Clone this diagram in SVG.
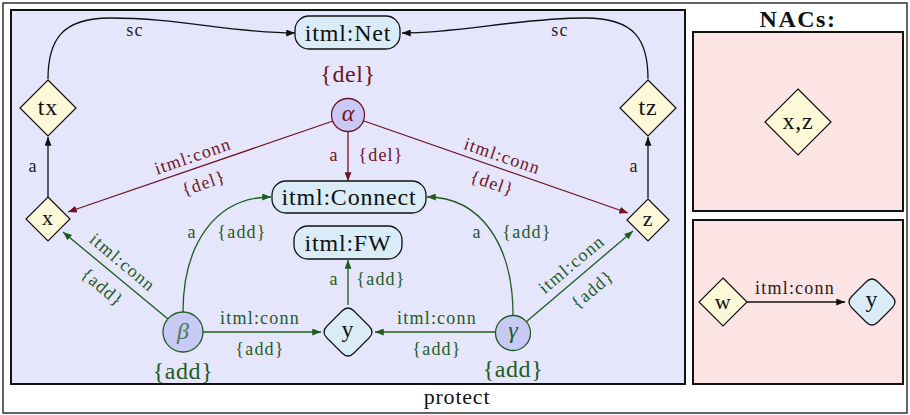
<svg xmlns="http://www.w3.org/2000/svg" width="910" height="415" viewBox="0 0 910 415">
<style>
text{font-family:"Liberation Serif","Times New Roman",serif;}
.node{font-size:24px;letter-spacing:0.8px;fill:#111;text-anchor:middle;}
.big{font-size:24px;letter-spacing:0.6px;text-anchor:middle;}
.lbl{font-size:18px;letter-spacing:1.2px;text-anchor:middle;}
.greek{font-size:24px;font-style:italic;text-anchor:middle;}
.k{fill:#222;}
.del{fill:#6e1423;}
.add{fill:#1e5c1e;}
.ek{stroke:#111;stroke-width:1.3;fill:none;}
.edel{stroke:#6e1423;stroke-width:1.3;fill:none;}
.eadd{stroke:#1e5c1e;stroke-width:1.3;fill:none;}
.rect{fill:#d9ecf8;stroke:#111;stroke-width:1.3;}
.dia{fill:#fdf8d8;stroke:#111;stroke-width:1.2;}
.ydia{fill:#d9ecf8;stroke:#111;stroke-width:1.2;}
.cir{fill:#c9c9f5;stroke-width:1.3;}
</style>
<defs>
<marker id="ak" viewBox="0 0 10 8" refX="10" refY="4" markerWidth="9" markerHeight="7" markerUnits="userSpaceOnUse" orient="auto"><path d="M0,0 L10,4 L0,8 z" fill="#111"/></marker>
<marker id="ad" viewBox="0 0 10 8" refX="10" refY="4" markerWidth="9" markerHeight="7" markerUnits="userSpaceOnUse" orient="auto"><path d="M0,0 L10,4 L0,8 z" fill="#6e1423"/></marker>
<marker id="aa" viewBox="0 0 10 8" refX="10" refY="4" markerWidth="9" markerHeight="7" markerUnits="userSpaceOnUse" orient="auto"><path d="M0,0 L10,4 L0,8 z" fill="#1e5c1e"/></marker>
</defs>
<rect x="0" y="0" width="910" height="415" fill="#ffffff"/>
<g id="frames">
<rect x="3" y="3" width="904" height="410" fill="#ffffff" stroke="#333" stroke-width="1.5"/>
<rect x="11" y="10" width="674" height="374" fill="#e5e5fb" stroke="#111" stroke-width="2"/>
<rect x="693" y="32" width="210" height="179" fill="#fde4e4" stroke="#111" stroke-width="2"/>
<rect x="693" y="220" width="210" height="164" fill="#fde4e4" stroke="#111" stroke-width="2"/>
<text x="798" y="27" style="font-size:24px;font-weight:bold;letter-spacing:1.5px;text-anchor:middle;fill:#111;">NACs:</text>
<text x="457" y="404" style="font-size:22px;letter-spacing:0.8px;text-anchor:middle;fill:#111;">protect</text>
</g>
<g id="connectors">
<path class="ek" d="M48,79 C48,40 62,18 110,18 C180,18 230,33 295,33" marker-end="url(#ak)"/>
<path class="ek" d="M648,79 C648,40 635,18 585,18 C520,18 460,33 402,33" marker-end="url(#ak)"/>
<path class="ek" d="M48,197 L48,137" marker-end="url(#ak)"/>
<path class="ek" d="M648,198 L648,137" marker-end="url(#ak)"/>
<path class="edel" d="M348,132 L348,181" marker-end="url(#ad)"/>
<path class="edel" d="M333,121 L68,212" marker-end="url(#ad)"/>
<path class="edel" d="M364,121 L628,213" marker-end="url(#ad)"/>
<path class="eadd" d="M168,319 L63,232" marker-end="url(#aa)"/>
<path class="eadd" d="M183,312 C183,245 215,197 271,197" marker-end="url(#aa)"/>
<path class="eadd" d="M203,332 L321,332" marker-end="url(#aa)"/>
<path class="eadd" d="M495,332 L375,332" marker-end="url(#aa)"/>
<path class="eadd" d="M513,315 C513,245 481,197 427,197" marker-end="url(#aa)"/>
<path class="eadd" d="M526,322 L633,231" marker-end="url(#aa)"/>
<path class="eadd" d="M348,305 L348,260" marker-end="url(#aa)"/>
<path class="ek" d="M747,302 L845,302" marker-end="url(#ak)"/>
<text class="lbl k" x="135" y="36">sc</text>
<text class="lbl k" x="560" y="36">sc</text>
<text class="lbl k" x="33" y="172">a</text>
<text class="lbl k" x="634" y="172">a</text>
<text class="lbl del" x="334" y="161">a</text>
<text class="lbl del" x="381" y="161">{del}</text>
<text class="lbl del" transform="translate(193,157) rotate(-18.9)" x="0" y="5">itml:conn</text>
<text class="lbl del" transform="translate(204,184) rotate(-18.9)" x="0" y="5">{del}</text>
<text class="lbl del" transform="translate(502,157) rotate(18.9)" x="0" y="5">itml:conn</text>
<text class="lbl del" transform="translate(492,184) rotate(18.9)" x="0" y="5">{del}</text>
<text class="lbl add" transform="translate(122,263) rotate(40)" x="0" y="5">itml:conn</text>
<text class="lbl add" transform="translate(102,288) rotate(40)" x="0" y="5">{add}</text>
<text class="lbl add" transform="translate(572,265) rotate(-40)" x="0" y="5">itml:conn</text>
<text class="lbl add" transform="translate(593,290) rotate(-40)" x="0" y="5">{add}</text>
<text class="lbl add" x="192" y="238">a</text>
<text class="lbl add" x="242" y="238">{add}</text>
<text class="lbl add" x="477" y="238">a</text>
<text class="lbl add" x="527" y="238">{add}</text>
<text class="lbl add" x="260" y="324">itml:conn</text>
<text class="lbl add" x="260" y="355">{add}</text>
<text class="lbl add" x="437" y="324">itml:conn</text>
<text class="lbl add" x="437" y="355">{add}</text>
<text class="lbl add" x="334" y="285">a</text>
<text class="lbl add" x="381" y="285">{add}</text>
<text class="lbl k" x="795" y="294">itml:conn</text>
</g>
<g id="net"><rect class="rect" x="295" y="16" width="105" height="33" rx="14"/><text class="node" x="348" y="41">itml:Net</text></g>
<g id="connect"><rect class="rect" x="272" y="181" width="154" height="32" rx="14"/><text class="node" x="349" y="205">itml:Connect</text></g>
<g id="fw"><rect class="rect" x="294" y="226" width="108" height="33" rx="14"/><text class="node" x="348" y="251">itml:FW</text></g>
<g id="tx"><path class="dia" d="M48,80 L76,108 L48,136 L20,108 Z"/><text class="node" x="48" y="115">tx</text></g>
<g id="tz"><path class="dia" d="M648,80 L676,108 L648,136 L620,108 Z"/><text class="node" x="648" y="115">tz</text></g>
<g id="x"><path class="dia" d="M48,197 L70,219 L48,241 L26,219 Z"/><text class="node" style="font-size:22px" x="48" y="225">x</text></g>
<g id="z"><path class="dia" d="M648,199 L669,220 L648,241 L627,220 Z"/><text class="node" style="font-size:22px" x="648" y="226">z</text></g>
<g id="y"><path class="ydia" d="M342,311 Q348,305 354,311 L369,326 Q375,332 369,338 L354,353 Q348,359 342,353 L327,338 Q321,332 327,326 Z"/><text class="node" x="348" y="337">y</text></g>
<g id="alpha"><text class="big del" x="348" y="82">{del}</text><circle class="cir" cx="348" cy="115" r="16.5" stroke="#6e1423"/><text class="greek del" x="348" y="121">α</text></g>
<g id="beta"><circle class="cir" cx="183" cy="332" r="20" stroke="#1e5c1e"/><text class="greek" style="fill:#4a7a55" x="183" y="339">β</text><text class="big add" x="183" y="379">{add}</text></g>
<g id="gamma"><circle class="cir" cx="513" cy="333" r="17.5" stroke="#1e5c1e"/><text class="greek add" x="513" y="338">γ</text><text class="big add" x="513" y="377">{add}</text></g>
<g id="nac-xz"><path class="dia" d="M798,89 L831,122 L798,155 L765,122 Z"/><text class="node" x="798" y="129">x,z</text></g>
<g id="nac-w"><path class="dia" d="M723,278 L747,302 L723,326 L699,302 Z"/><text class="node" style="font-size:22px" x="723" y="309">w</text></g>
<g id="nac-y"><path class="ydia" d="M866,282 Q872,276 878,282 L892,296 Q898,302 892,308 L878,322 Q872,328 866,322 L852,308 Q846,302 852,296 Z"/><text class="node" x="872" y="307">y</text></g>
</svg>
